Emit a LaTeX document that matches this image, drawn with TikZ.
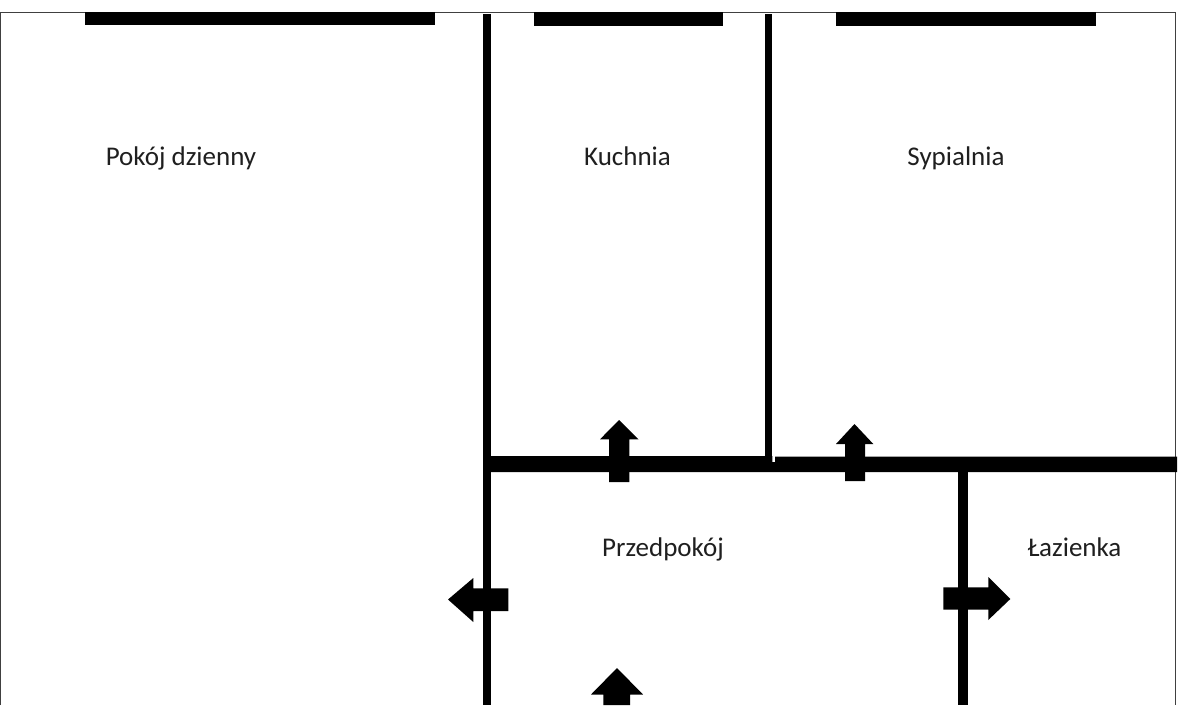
\documentclass[tikz,border=0pt]{standalone}
\usepackage{fontspec}
\setmainfont{Carlito}
\tikzset{
  wallshape/.style={fill=black,draw=none},
  outline/.style={draw=black!75,line width=1.3pt},
  roomlabel/.style={text=black!88,inner sep=0pt,anchor=base,font=\fontsize{27}{32}\selectfont}
}
\begin{document}
\begin{tikzpicture}[x=1pt,y=-1pt]
\useasboundingbox (0,0) rectangle (1200,705);
\fill[white] (0,0) rectangle (1200,705);
% outline
\draw[outline] (0.6,705) -- (0.6,12.3) -- (1175.5,12.3) -- (1175.5,705);
% windows
\fill[wallshape] (85,12) rectangle (435,25);
\fill[wallshape] (533.5,12) rectangle (723,26);
\fill[wallshape] (836,12) rectangle (1096,26);
% walls
\fill[wallshape] (483,14) rectangle (491,705);
\fill[wallshape] (765.3,14) rectangle (772.4,462);
\fill[wallshape] (483,456) -- (772.4,456) -- (772.4,462) -- (775,462) -- (775,456.6) -- (1177,456.6) -- (1177,472) -- (483,472) -- cycle;
\fill[wallshape] (958,472) rectangle (968,705);
% arrows
\fill[wallshape] (619,420) -- (638.5,439.3) -- (629.3,439.3) -- (629.3,482) -- (609,482) -- (609,439.3) -- (600,439.3) -- cycle;
\fill[wallshape] (854.5,424) -- (873.3,444) -- (865,444) -- (865,481) -- (845,481) -- (845,444) -- (836,444) -- cycle;
\fill[wallshape] (448,599.5) -- (473.3,578) -- (473.3,588.3) -- (508.3,588.3) -- (508.3,611) -- (473.3,611) -- (473.3,622) -- cycle;
\fill[wallshape] (1010.3,599) -- (988.3,577) -- (988.3,587.3) -- (943.3,587.3) -- (943.3,609.5) -- (988.3,609.5) -- (988.3,620) -- cycle;
\fill[wallshape] (617,668) -- (643,694.5) -- (630,694.5) -- (630,705) -- (603.3,705) -- (603.3,694.5) -- (591,694.5) -- cycle;
% labels
\node[roomlabel] (pokoj) at (181,165) {Pokój dzienny};
\node[roomlabel] (kuchnia) at (627.5,165) {Kuchnia};
\node[roomlabel] (sypialnia) at (956,165) {Sypialnia};
\node[roomlabel] (przedpokoj) at (663,556.5) {Przedpokój};
\node[roomlabel] (lazienka) at (1074.5,556.5) {Łazienka};
\end{tikzpicture}
\end{document}
